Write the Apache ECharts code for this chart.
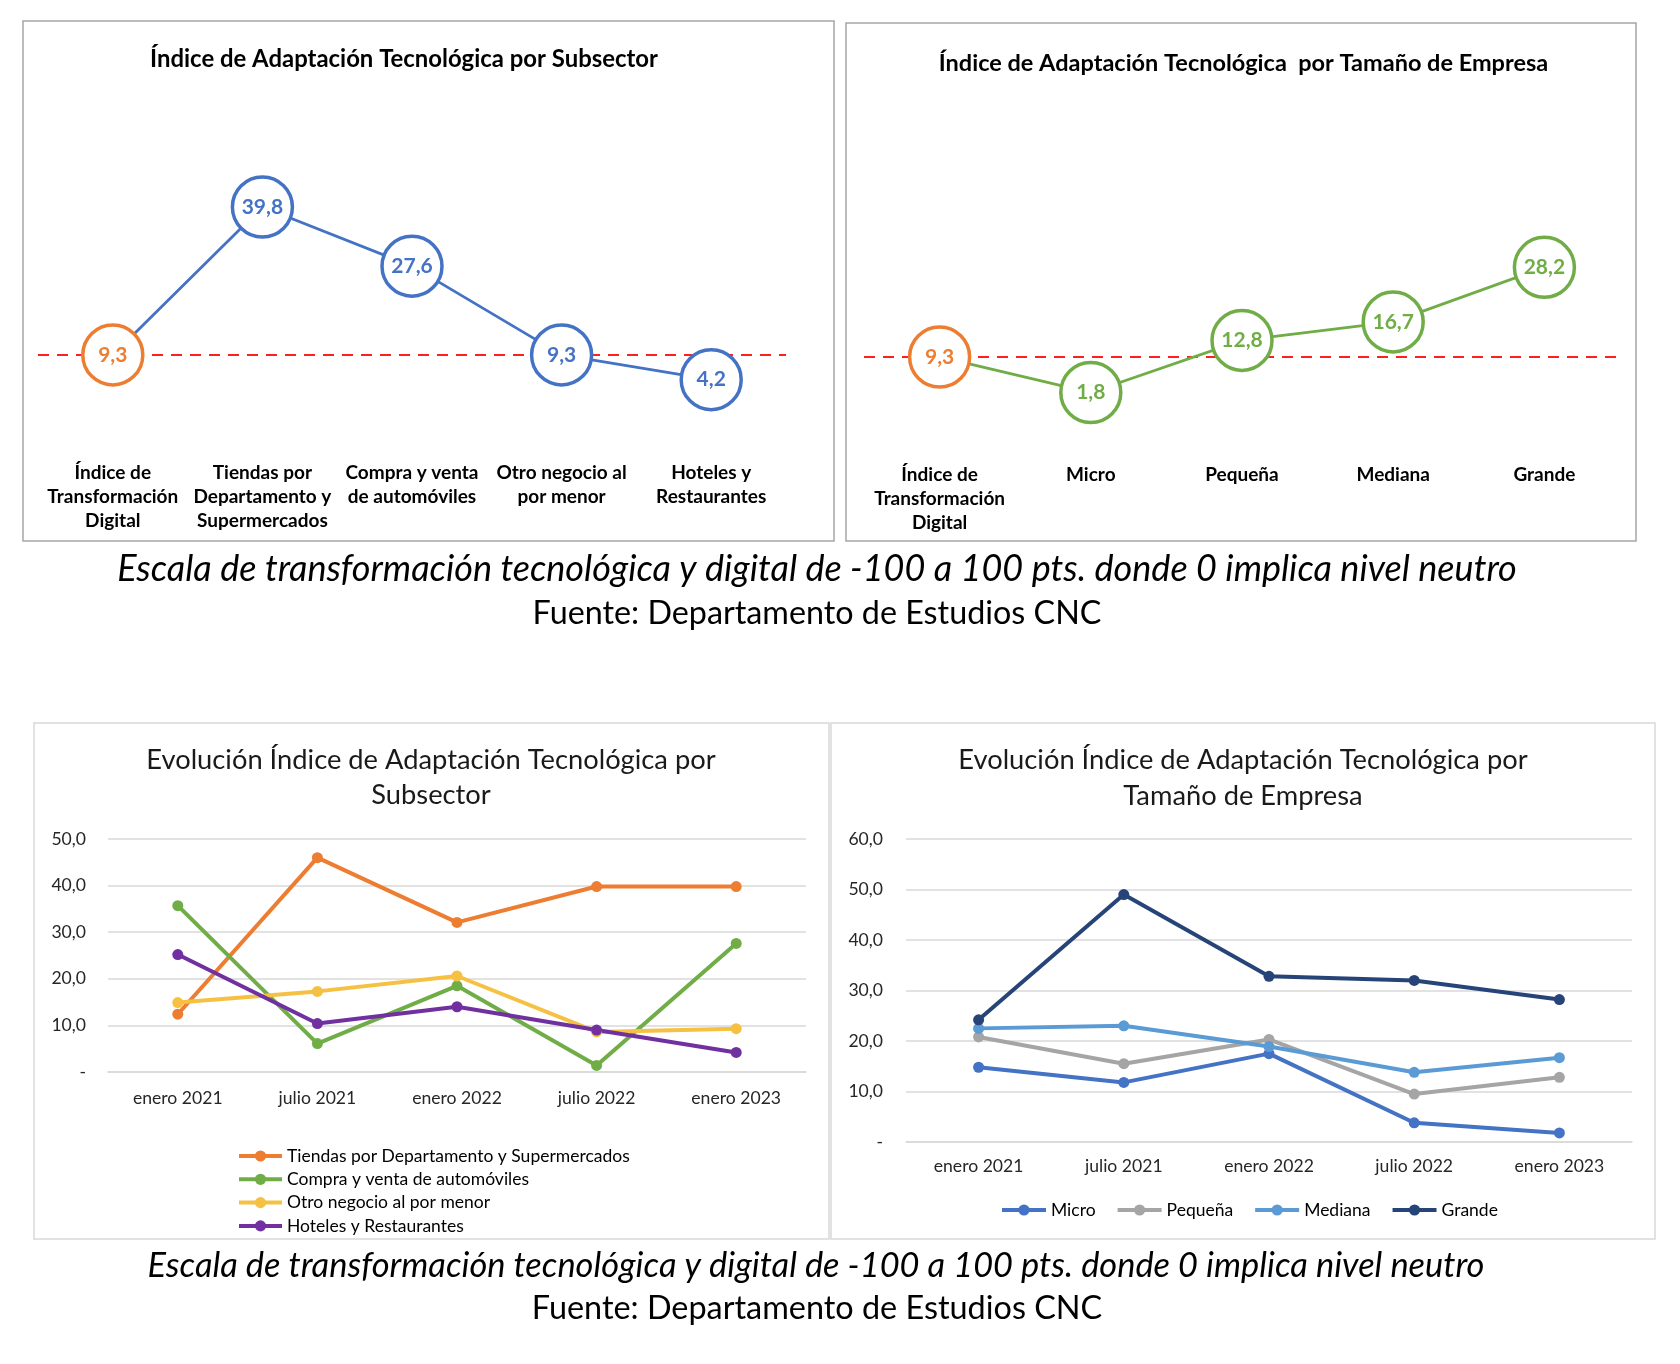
<!DOCTYPE html>
<html>
<head>
<meta charset="utf-8">
<script src="https://cdn.jsdelivr.net/npm/echarts@6/dist/echarts.min.js"></script>
<style>
html,body{margin:0;padding:0;background:#fff;}
#c{width:1680px;height:1364px;}
</style>
</head>
<body>
<div id="c"></div>
<script>
// ---- data ----
const subCats = ['Índice de\nTransformación\nDigital', 'Tiendas por\nDepartamento y\nSupermercados', 'Compra y venta\nde automóviles', 'Otro negocio al\npor menor', 'Hoteles y\nRestaurantes'];
const subValues = [9.3, 39.8, 27.6, 9.3, 4.2];
const sizeCats = ['Índice de\nTransformación\nDigital', 'Micro', 'Pequeña', 'Mediana', 'Grande'];
const sizeValues = [9.3, 1.8, 12.8, 16.7, 28.2];
const benchmark = 9.3;

const periods = ['enero 2021', 'julio 2021', 'enero 2022', 'julio 2022', 'enero 2023'];
const subNames = ['Tiendas por Departamento y Supermercados', 'Compra y venta de automóviles', 'Otro negocio al por menor', 'Hoteles y Restaurantes'];
const tiendas = [12.4, 46.0, 32.1, 39.8, 39.8];
const compra = [35.7, 6.1, 18.5, 1.4, 27.6];
const otro = [14.9, 17.3, 20.6, 8.6, 9.3];
const hoteles = [25.2, 10.4, 14.0, 9.0, 4.2];

const sizeNames = ['Micro', 'Pequeña', 'Mediana', 'Grande'];
const micro = [14.8, 11.8, 17.5, 3.8, 1.8];
const pequena = [20.8, 15.5, 20.3, 9.5, 12.8];
const mediana = [22.5, 23.0, 18.9, 13.8, 16.7];
const grande = [24.2, 49.0, 32.8, 32.0, 28.2];

const titleTL = 'Índice de Adaptación Tecnológica por Subsector';
const titleTR = 'Índice de Adaptación Tecnológica  por Tamaño de Empresa';
const titleBL = ['Evolución Índice de Adaptación Tecnológica por', 'Subsector'];
const titleBR = ['Evolución Índice de Adaptación Tecnológica por', 'Tamaño de Empresa'];
const caption1 = 'Escala de transformación tecnológica y digital de -100 a 100 pts. donde 0 implica nivel neutro';
const caption2 = 'Fuente: Departamento de Estudios CNC';

// ---- style ----
const FONT = 'Lato, "Open Sans", sans-serif';
const BLUE = '#4472C4', GREEN = '#70AD47', ORANGE = '#ED7D31', RED = '#FF1F1F';
const fmt = v => v.toFixed(1).replace('.', ',');

function circleSeries(name, values, color, xi) {
  return {
    name: name, type: 'line', xAxisIndex: xi, yAxisIndex: xi, z: 5,
    data: values.map((v, i) => i === 0 ? {
      value: v,
      itemStyle: { borderColor: ORANGE },
      label: { color: ORANGE }
    } : v),
    symbol: 'circle', symbolSize: 60,
    lineStyle: { color: color, width: 2.8 },
    itemStyle: { color: '#fff', borderColor: color, borderWidth: 3.5 },
    label: {
      show: true, position: 'inside', color: color, fontFamily: FONT,
      fontWeight: 'bold', fontSize: 21, formatter: p => fmt(p.value)
    },
    silent: true, animation: false
  };
}
function refSeries(xi) {
  return {
    type: 'line', xAxisIndex: xi, yAxisIndex: xi, z: 1, data: [], silent: true,
    markLine: {
      silent: true, symbol: 'none', animation: false,
      label: { show: false },
      lineStyle: { color: RED, width: 2, type: [11, 8] },
      data: [{ yAxis: benchmark }]
    }
  };
}
function evoSeries(name, values, color, xi) {
  return {
    name: name, type: 'line', xAxisIndex: xi, yAxisIndex: xi,
    data: values, symbol: 'circle', symbolSize: 11,
    lineStyle: { color: color, width: 4 },
    itemStyle: { color: color },
    animation: false
  };
}

const catAxisTop = (cats, margin) => ({
  type: 'category', data: cats, boundaryGap: true,
  axisLine: { show: false }, axisTick: { show: false }, splitLine: { show: false },
  axisLabel: { interval: 0, margin: margin, color: '#000', fontFamily: FONT, fontWeight: 'bold', fontSize: 19, lineHeight: 24 }
});
const valAxisHidden = { type: 'value', min: -10, max: 50, show: false, splitLine: { show: false } };
const catAxisEvo = (margin) => ({
  type: 'category', data: periods, boundaryGap: true,
  axisLine: { show: true, lineStyle: { color: '#d9d9d9', width: 1.5 } },
  axisTick: { show: false },
  axisLabel: { interval: 0, margin: margin, color: '#262626', fontFamily: FONT, fontSize: 17.6 }
});
const valAxisEvo = (max, margin) => ({
  type: 'value', min: 0, max: max, interval: 10,
  axisLine: { show: false }, axisTick: { show: false },
  splitLine: { lineStyle: { color: '#d9d9d9', width: 1.5 } },
  axisLabel: { margin: margin, color: '#262626', fontFamily: FONT, fontSize: 17.6, formatter: v => v === 0 ? '-' : fmt(v) }
});

function txt(x, y, text, size, opts) {
  return {
    type: 'text', x: x, y: y, silent: true,
    style: Object.assign({
      text: text, fill: '#000', fontFamily: FONT, fontSize: size,
      align: 'center', verticalAlign: 'middle'
    }, opts || {})
  };
}
function box(x1, y1, x2, y2, color) {
  return {
    type: 'rect', silent: true, z: -1,
    shape: { x: x1, y: y1, width: x2 - x1, height: y2 - y1 },
    style: { fill: 'none', stroke: color, lineWidth: 1.5 }
  };
}

const chart = echarts.init(document.getElementById('c'), null, { renderer: 'canvas' });
chart.setOption({
  backgroundColor: '#fff',
  animation: false,
  grid: [
    { left: 38, top: 157.5, width: 748, height: 291 },
    { left: 864, top: 164, width: 756, height: 284.5 },
    { left: 108, top: 839, width: 698, height: 233 },
    { left: 906, top: 839, width: 726, height: 303 }
  ],
  xAxis: [
    Object.assign(catAxisTop(subCats, 12.5), { gridIndex: 0 }),
    Object.assign(catAxisTop(sizeCats, 14.5), { gridIndex: 1 }),
    Object.assign(catAxisEvo(17), { gridIndex: 2 }),
    Object.assign(catAxisEvo(15), { gridIndex: 3 })
  ],
  yAxis: [
    Object.assign({ gridIndex: 0 }, valAxisHidden),
    Object.assign({ gridIndex: 1 }, valAxisHidden),
    Object.assign({ gridIndex: 2 }, valAxisEvo(50, 22)),
    Object.assign({ gridIndex: 3 }, valAxisEvo(60, 23))
  ],
  legend: [
    {
      data: subNames, orient: 'vertical', left: 237, top: 1147, padding: 0,
      itemWidth: 43, itemHeight: 14, itemGap: 5.3,
      lineStyle: { width: 4 },
      textStyle: { fontFamily: FONT, fontSize: 17.5, color: '#000', lineHeight: 18 },
      selectedMode: false
    },
    {
      data: sizeNames, orient: 'horizontal', left: 1000, top: 1201, padding: 0,
      itemWidth: 44, itemHeight: 14, itemGap: 20,
      lineStyle: { width: 4 },
      textStyle: { fontFamily: FONT, fontSize: 17.5, color: '#000', lineHeight: 18 },
      selectedMode: false
    }
  ],
  series: [
    refSeries(0),
    circleSeries('subsector', subValues, BLUE, 0),
    refSeries(1),
    circleSeries('tamaño', sizeValues, GREEN, 1),
    evoSeries(subNames[0], tiendas, '#ED7D31', 2),
    evoSeries(subNames[1], compra, '#70AD47', 2),
    evoSeries(subNames[2], otro, '#F6C143', 2),
    evoSeries(subNames[3], hoteles, '#7030A0', 2),
    evoSeries(sizeNames[0], micro, '#4472C4', 3),
    evoSeries(sizeNames[1], pequena, '#A5A5A5', 3),
    evoSeries(sizeNames[2], mediana, '#5B9BD5', 3),
    evoSeries(sizeNames[3], grande, '#264478', 3)
  ],
  graphic: [
    box(23, 21, 834, 541, '#a6a6a6'),
    box(846, 23, 1636, 541, '#a6a6a6'),
    box(34, 723, 829, 1239, '#d9d9d9'),
    box(831, 723, 1655, 1239, '#d9d9d9'),
    txt(404, 59, titleTL, 23.9, { fontWeight: 'bold' }),
    txt(1243.5, 63, titleTR, 23.5, { fontWeight: 'bold' }),
    txt(431, 760, titleBL[0], 27.3, { fill: '#1a1a1a' }),
    txt(431, 795, titleBL[1], 27.3, { fill: '#1a1a1a' }),
    txt(1243, 760, titleBR[0], 27.3, { fill: '#1a1a1a' }),
    txt(1243, 796, titleBR[1], 27.3, { fill: '#1a1a1a' }),
    txt(817, 569, caption1, 36, { fontStyle: 'italic' }),
    txt(817, 614, caption2, 32.3),
    txt(816, 1266, caption1, 34.4, { fontStyle: 'italic' }),
    txt(817, 1309, caption2, 32.4)
  ]
});
</script>
</body>
</html>
